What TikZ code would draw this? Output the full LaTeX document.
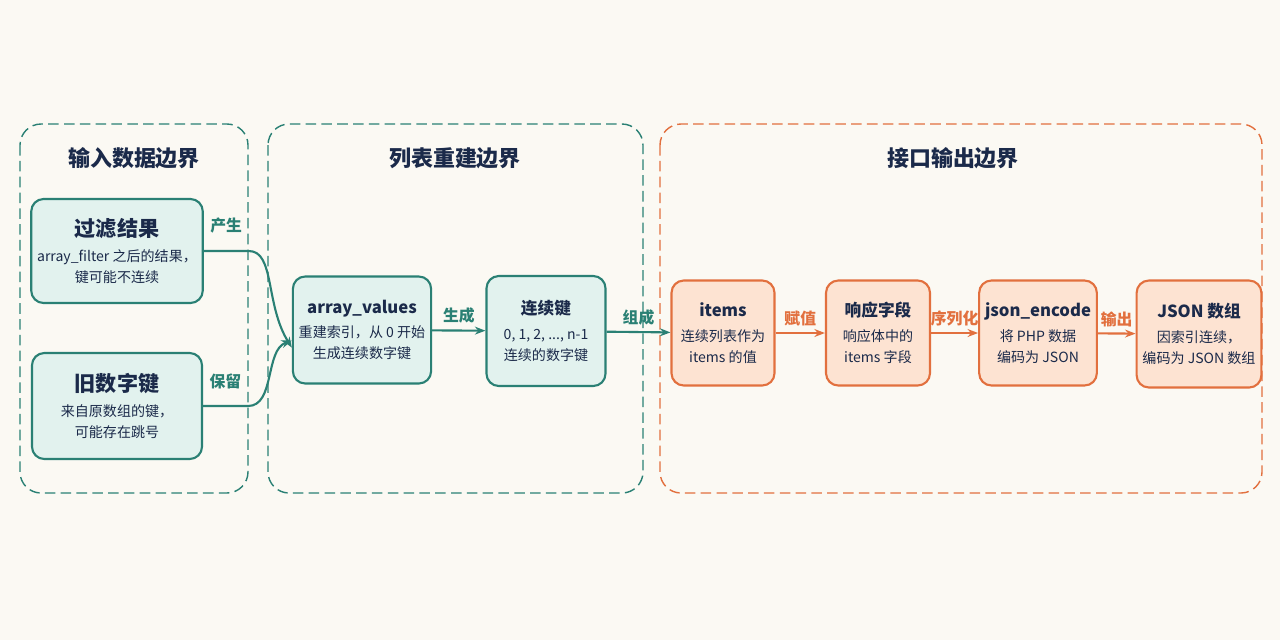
\documentclass[tikz,border=0pt]{standalone}
\usepackage{fontspec}
\setmainfont{Noto Sans CJK SC}
\usetikzlibrary{positioning}
\usetikzlibrary{arrows.meta}
\definecolor{bgc}{HTML}{FBF9F3}
\definecolor{tealc}{HTML}{2A8074}
\definecolor{tealf}{HTML}{E2F2EE}
\definecolor{orc}{HTML}{E2703E}
\definecolor{orf}{HTML}{FDE3D2}
\definecolor{navy}{HTML}{1B2A4A}
\tikzset{
  group/.style={draw, thick, rounded corners=12pt, dash pattern=on 6pt off 3pt},
  gtitle/.style={font=\fontsize{12.5}{15}\selectfont\bfseries, text=navy},
  step/.style 2 args={draw=#1, fill=#2, very thick, rounded corners=7pt, align=center,
    font=\fontsize{8}{12}\selectfont, text=navy},
  flow/.style={very thick, -{Stealth[length=6pt]}},
  tag/.style={font=\fontsize{9}{11}\selectfont\bfseries},
}
\begin{document}
\begin{tikzpicture}[x=0.02cm, y=-0.02cm]
  \fill[bgc] (0,0) rectangle (1280,640);
  \useasboundingbox (0,0) rectangle (1280,640);

  % Boundaries
  \draw[group, tealc] (20,124) rectangle (248,493);
  \draw[group, tealc] (268,124) rectangle (643,493);
  \draw[group, orc] (660,124) rectangle (1262,493);
  \node[gtitle] (t1) at (134,158) {输入数据边界};
  \node[gtitle] (t2) at (455,158) {列表重建边界};
  \node[gtitle] (t3) at (953,158) {接口输出边界};

  % Input nodes
  \node[step={tealc}{tealf}, minimum width=170*0.02cm, minimum height=104*0.02cm] (filter) at (117,251)
    {{\fontsize{12}{16}\selectfont\bfseries 过滤结果}\\[2pt]array\_filter 之后的结果，\\键可能不连续};
  \node[step={tealc}{tealf}, minimum width=170*0.02cm, minimum height=106*0.02cm] (oldkey) at (117,406)
    {{\fontsize{12}{16}\selectfont\bfseries 旧数字键}\\[2pt]来自原数组的键，\\可能存在跳号};

  % Rebuild nodes
  \node[step={tealc}{tealf}, minimum width=136*0.02cm, minimum height=107*0.02cm] (values) at (362,330)
    {{\fontsize{9.5}{13}\selectfont\bfseries array\_values}\\[2pt]重建索引，从 0 开始\\生成连续数字键};
  \node[step={tealc}{tealf}, minimum width=119*0.02cm, minimum height=110*0.02cm] (seqkey) at (546,331)
    {{\fontsize{9.5}{13}\selectfont\bfseries 连续键}\\[2pt]0, 1, 2, ..., n-1\\连续的数字键};

  % Output nodes
  \node[step={orc}{orf}, minimum width=103*0.02cm, minimum height=105*0.02cm] (items) at (723,333)
    {{\fontsize{9.5}{13}\selectfont\bfseries items}\\[2pt]连续列表作为\\items 的值};
  \node[step={orc}{orf}, minimum width=104*0.02cm, minimum height=105*0.02cm] (field) at (878,333)
    {{\fontsize{9.5}{13}\selectfont\bfseries 响应字段}\\[2pt]响应体中的\\items 字段};
  \node[step={orc}{orf}, minimum width=114*0.02cm, minimum height=105*0.02cm] (encode) at (1038,333)
    {{\fontsize{9.5}{13}\selectfont\bfseries json\_encode}\\[2pt]将 PHP 数据\\编码为 JSON};
  \node[step={orc}{orf}, minimum width=107*0.02cm, minimum height=107*0.02cm] (jsonarr) at (1199,334)
    {{\fontsize{9.5}{13}\selectfont\bfseries JSON 数组}\\[2pt]因索引连续，\\编码为 JSON 数组};

  % Connectors
  \draw[flow, tealc] (filter.east) -- ++(45,0) .. controls (275,251) and (265,305) .. node[tag, pos=0, above left=6pt and 0pt] {产生} ([yshift=-10pt]values.west);
  \draw[flow, tealc] (oldkey.east) -- ++(45,0) .. controls (275,406) and (265,350) .. node[tag, pos=0, above left=6pt and 0pt] {保留} ([yshift=-6pt]values.west);
  \draw[flow, tealc] (values) -- node[tag, above] {生成} (seqkey);
  \draw[flow, tealc] (seqkey) -- node[tag, above] {组成} (items);
  \draw[flow, orc] (items) -- node[tag, above] {赋值} (field);
  \draw[flow, orc] (field) -- node[tag, above] {序列化} (encode);
  \draw[flow, orc] (encode) -- node[tag, above] {输出} (jsonarr);
\end{tikzpicture}
\end{document}
